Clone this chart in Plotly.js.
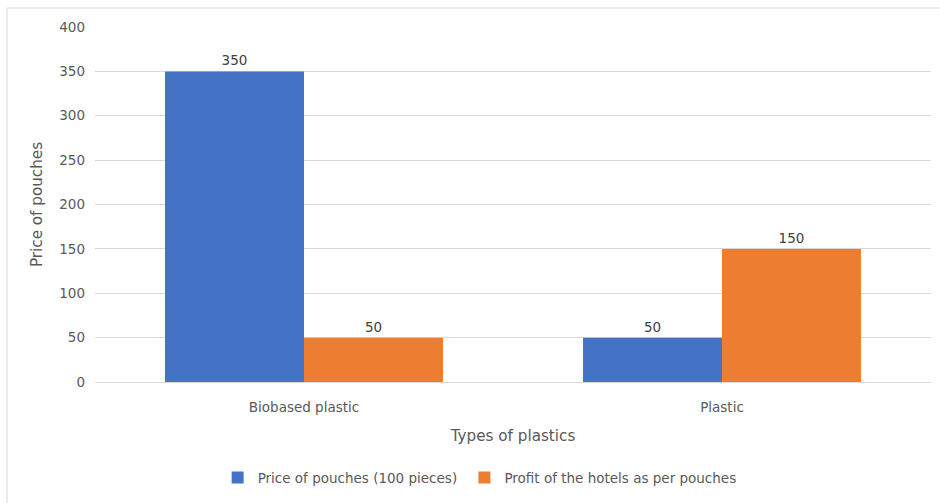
<!DOCTYPE html>
<html>
<head>
<meta charset="utf-8">
<script src="https://cdn.plot.ly/plotly-3.0.1.min.js"></script>
<style>
  html, body { margin: 0; padding: 0; background: #ffffff; }
  #chart { width: 940px; height: 503px; }
</style>
</head>
<body>
<div id="chart"></div>
<script>
// Plastic types on the category axis
const categories = ["Biobased plastic", "Plastic"];

// Series values
const pricePerHundred = [350, 50];
const hotelProfit = [50, 150];

// Series names
const seriesNames = ["Price of pouches (100 pieces)", "Profit of the hotels as per pouches"];

const textColor = "#595959";
const fontFamily = "'DejaVu Sans', sans-serif";
const smallSize = 13.5;
const titleSize = 15.2;

const traces = [
  {
    type: "bar",
    name: seriesNames[0],
    x: categories,
    y: pricePerHundred,
    marker: { color: "#4472C4" },
    text: pricePerHundred.map(String),
    textposition: "outside",
    cliponaxis: false,
    textfont: { family: fontFamily, size: smallSize, color: "#404040" },
    legend: "legend",
    hoverinfo: "x+y"
  },
  {
    type: "bar",
    name: seriesNames[1],
    x: categories,
    y: hotelProfit,
    marker: { color: "#ED7D31" },
    text: hotelProfit.map(String),
    textposition: "outside",
    cliponaxis: false,
    textfont: { family: fontFamily, size: smallSize, color: "#404040" },
    legend: "legend2",
    hoverinfo: "x+y"
  }
];

const legendBase = {
  orientation: "h",
  xanchor: "left",
  yanchor: "top",
  y: -0.226,
  font: { family: fontFamily, size: smallSize, color: textColor },
  bgcolor: "rgba(0,0,0,0)",
  itemwidth: 30
};

const layout = {
  width: 940,
  height: 503,
  paper_bgcolor: "#ffffff",
  plot_bgcolor: "#ffffff",
  margin: { l: 95, r: 9, t: 27, b: 121 },
  barmode: "group",
  bargap: 0.335,
  bargroupgap: 0,
  font: { family: fontFamily, size: smallSize, color: textColor },
  showlegend: true,
  legend: Object.assign({}, legendBase, { x: 0.1467 }),
  legend2: Object.assign({}, legendBase, { x: 0.4419 }),
  xaxis: {
    type: "category",
    showgrid: false,
    showline: false,
    zeroline: false,
    ticks: "",
    ticklabelstandoff: 15,
    tickfont: { family: fontFamily, size: smallSize, color: textColor },
    title: {
      text: "Types of plastics",
      font: { family: fontFamily, size: titleSize, color: textColor },
      standoff: 16
    },
    automargin: false
  },
  yaxis: {
    range: [0, 400],
    dtick: 50,
    tick0: 0,
    showgrid: true,
    gridcolor: "#D9D9D9",
    gridwidth: 1,
    zeroline: true,
    zerolinecolor: "#D9D9D9",
    zerolinewidth: 1,
    showline: false,
    ticks: "",
    ticklabelstandoff: 9,
    tickfont: { family: fontFamily, size: smallSize, color: textColor },
    title: {
      text: "Price of pouches",
      font: { family: fontFamily, size: titleSize, color: textColor },
      standoff: 12
    },
    automargin: false
  },
  shapes: [
    // chart frame: left and top edges
    { type: "line", xref: "paper", yref: "paper", x0: -0.1053, x1: -0.1053, y0: 1.0535, y1: -0.345,
      line: { color: "#D9D9D9", width: 1 } },
    { type: "line", xref: "paper", yref: "paper", x0: -0.1053, x1: 1.012, y0: 1.0535, y1: 1.0535,
      line: { color: "#D9D9D9", width: 1 } }
  ]
};

Plotly.newPlot("chart", traces, layout, { displayModeBar: false, staticPlot: true });
</script>
</body>
</html>
